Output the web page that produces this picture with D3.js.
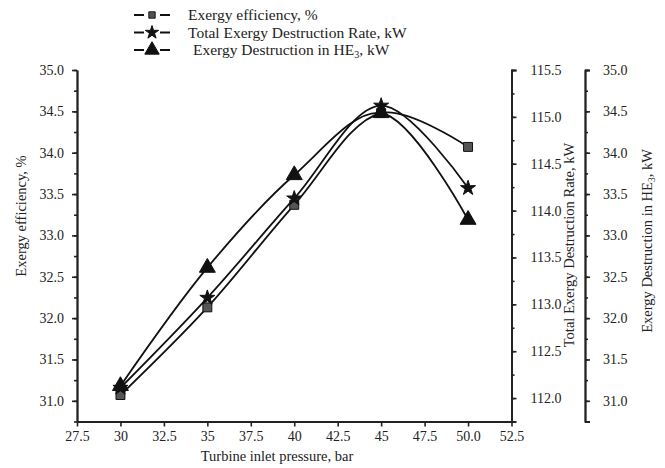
<!DOCTYPE html>
<html>
<head>
<meta charset="utf-8">
<script src="https://cdn.jsdelivr.net/npm/d3@7"></script>
<style>
  body { margin: 0; background: #fff; }
  svg text { font-family: "Liberation Serif", "Times New Roman", serif; fill: #222; }
  .axis path, .axis line { stroke: #222; }
</style>
</head>
<body>
<div class="chart"></div>
<script>
// data
const pressure = [30, 35, 40, 45, 50]
const efficiency = [31.07, 32.13, 33.37, 34.48, 34.07]      // %
const totalDestruction = [112.11, 113.07, 114.13, 115.12, 114.24]   // kW
const he3Destruction = [31.18, 32.61, 33.73, 34.48, 33.19]  // kW

const xTicks = [27.5, 30, 32.5, 35, 37.5, 40, 42.5, 45, 47.5, 50, 52.5]
const xLabels = ['27.5', '30', '32.5', '35', '37.5', '40', '42.5', '45', '47.5', '50.0', '52.5']
const leftTicks = [31, 31.5, 32, 32.5, 33, 33.5, 34, 34.5, 35]
const midTicks = [112, 112.5, 113, 113.5, 114, 114.5, 115, 115.5]
const rightTicks = [31, 31.5, 32, 32.5, 33, 33.5, 34, 34.5, 35]

const W = 665, H = 468
const plot = { left: 77, right: 511.5, top: 70, bottom: 421.5 }
const axis3X = 585

const svg = d3.select('.chart').append('svg')
    .attr('width', W)
    .attr('height', H)

const x = d3.scaleLinear().domain([27.5, 52.5]).range([plot.left, plot.right])
const yLeft = d3.scaleLinear().domain([30.75, 35]).range([plot.bottom, plot.top])
const yMid = d3.scaleLinear().domain([111.75, 115.5]).range([plot.bottom, plot.top])
const yRight = d3.scaleLinear().domain([30.75, 35]).range([plot.bottom, plot.top])

// minor ticks every 0.25 on y axes
const minor = (lo, hi) => d3.range(lo, hi + 0.001, 0.25)

function styleAxis(g){
    g.attr('class', 'axis')
    g.selectAll('path').attr('stroke-width', 1.8)
    g.selectAll('line').attr('stroke-width', 1.6)
    g.selectAll('text').attr('font-size', 14)
}

// x axis
svg.append('g')
    .attr('transform', `translate(0, ${plot.bottom})`)
    .call(d3.axisBottom(x).tickValues(xTicks)
        .tickFormat((d, i) => xLabels[i]).tickSize(5).tickSizeOuter(0).tickPadding(5))
    .call(styleAxis)

// left axis
svg.append('g')
    .attr('transform', `translate(${plot.left}, 0)`)
    .call(d3.axisLeft(yLeft).tickValues(minor(30.75, 35)).tickFormat('').tickSize(3).tickSizeOuter(0))
    .call(styleAxis)
svg.append('g')
    .attr('transform', `translate(${plot.left}, 0)`)
    .call(d3.axisLeft(yLeft).tickValues(leftTicks).tickFormat(d3.format('.1f')).tickSize(5).tickSizeOuter(0).tickPadding(8))
    .call(styleAxis)

// middle axis (right edge of plot)
svg.append('g')
    .attr('transform', `translate(${plot.right}, 0)`)
    .call(d3.axisRight(yMid).tickValues(minor(111.75, 115.5)).tickFormat('').tickSize(3).tickSizeOuter(0))
    .call(styleAxis)
svg.append('g')
    .attr('transform', `translate(${plot.right}, 0)`)
    .call(d3.axisRight(yMid).tickValues(midTicks).tickFormat(d3.format('.1f')).tickSize(5).tickSizeOuter(5).tickPadding(14))
    .call(styleAxis)

// third axis
svg.append('g')
    .attr('transform', `translate(${axis3X}, 0)`)
    .call(d3.axisRight(yRight).tickValues(minor(30.75, 35)).tickFormat('').tickSize(3).tickSizeOuter(0))
    .call(styleAxis)
svg.append('g')
    .attr('transform', `translate(${axis3X}, 0)`)
    .call(d3.axisRight(yRight).tickValues(rightTicks).tickFormat(d3.format('.1f')).tickSize(5).tickSizeOuter(5).tickPadding(13))
    .call(styleAxis)

// axis titles
svg.append('text')
    .attr('x', 277).attr('y', 461)
    .attr('text-anchor', 'middle').attr('font-size', 14.5)
    .text('Turbine inlet pressure, bar')
svg.append('text')
    .attr('transform', `translate(26, 216) rotate(-90)`)
    .attr('text-anchor', 'middle').attr('font-size', 14.5)
    .text('Exergy efficiency, %')
svg.append('text')
    .attr('transform', `translate(574, 245) rotate(-90)`)
    .attr('text-anchor', 'middle').attr('font-size', 14.5)
    .text('Total Exergy Destruction Rate, kW')
const t3 = svg.append('text')
    .attr('transform', `translate(652, 241) rotate(-90)`)
    .attr('text-anchor', 'middle').attr('font-size', 14.5)
t3.append('tspan').text('Exergy Destruction in HE')
t3.append('tspan').attr('font-size', 9.5).attr('dy', 3).text('3')
t3.append('tspan').attr('dy', -3).text(', kW')

// series
const series = [
    { values: efficiency, y: yLeft, symbol: d3.symbolSquare, size: 80, fill: '#555' },
    { values: totalDestruction, y: yMid, symbol: d3.symbolStar, size: 70, fill: '#111' },
    { values: he3Destruction, y: yRight, symbol: d3.symbolTriangle, size: 110, fill: '#111' }
]

series.forEach(s => {
    const line = d3.line()
        .x((d, i) => x(pressure[i]))
        .y(d => s.y(d))
        .curve(d3.curveCatmullRom.alpha(0.5))
    svg.append('path')
        .datum(s.values)
        .attr('d', line)
        .attr('fill', 'none')
        .attr('stroke', '#111')
        .attr('stroke-width', 1.8)
})
series.forEach(s => {
    svg.append('g').selectAll('path')
        .data(s.values)
        .enter()
        .append('path')
        .attr('transform', (d, i) => `translate(${x(pressure[i])}, ${s.y(d)})`)
        .attr('d', d3.symbol().type(s.symbol).size(s.size))
        .attr('fill', s.fill)
        .attr('stroke', '#111')
        .attr('stroke-width', 1)
})

// legend
const legendItems = [
    { label: ['Exergy efficiency, %'], symbol: d3.symbolSquare, size: 40, fill: '#555', tx: 188 },
    { label: ['Total Exergy Destruction Rate, kW'], symbol: d3.symbolStar, size: 55, fill: '#111', tx: 188 },
    { label: ['Exergy Destruction in HE', '3', ', kW'], symbol: d3.symbolTriangle, size: 90, fill: '#111', tx: 193 }
]
const legend = svg.append('g')
legendItems.forEach((d, i) => {
    const yy = 15 + i * 17.5
    // short dashes either side of the marker
    legend.append('line')
        .attr('x1', 134).attr('x2', 144).attr('y1', yy).attr('y2', yy)
        .attr('stroke', '#111').attr('stroke-width', 2)
    legend.append('line')
        .attr('x1', 160).attr('x2', 170).attr('y1', yy).attr('y2', yy)
        .attr('stroke', '#111').attr('stroke-width', 2)
    legend.append('path')
        .attr('transform', `translate(152, ${yy})`)
        .attr('d', d3.symbol().type(d.symbol).size(d.size))
        .attr('fill', d.fill).attr('stroke', '#111')
    const t = legend.append('text')
        .attr('x', d.tx).attr('y', yy + 5)
        .attr('font-size', 15.5)
    t.append('tspan').text(d.label[0])
    if(d.label.length > 1){
        t.append('tspan').attr('font-size', 10).attr('dy', 3).text(d.label[1])
        t.append('tspan').attr('dy', -3).text(d.label[2])
    }
})
</script>
</body>
</html>
